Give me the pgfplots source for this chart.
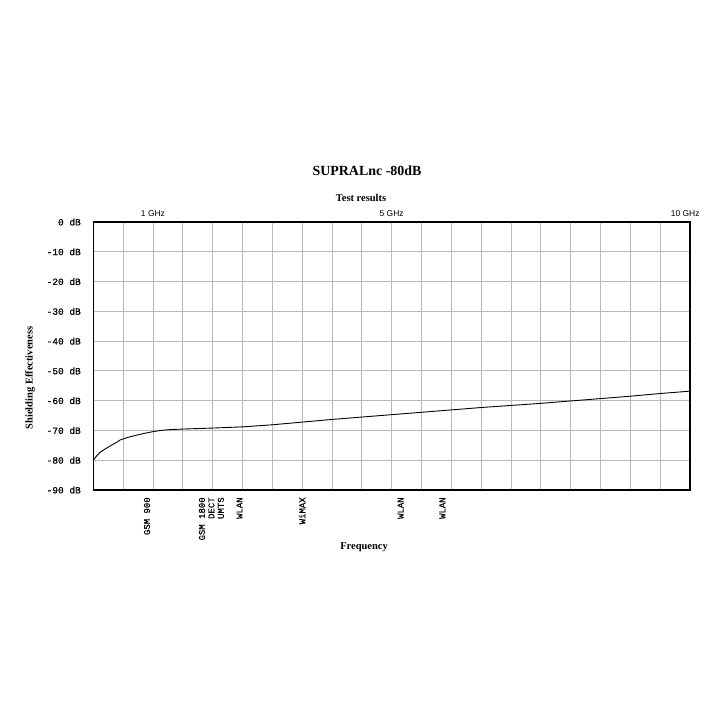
\documentclass[border=0pt]{standalone}
\usepackage{pgfplots}
\pgfplotsset{compat=1.18}
\usepackage{fontspec}
\setmainfont{Liberation Serif}
\setsansfont{Liberation Sans}
\setmonofont{Liberation Mono}
\newfontfamily\labelfont[FakeBold=0.6]{Liberation Mono}

% band markers below the axis (top end of the text 7bp under the frame)
\newcommand{\band}[2]{\node[rotate=90,anchor=east,align=right,inner sep=0pt,
  font=\labelfont\fontsize{9}{9.5}\selectfont] at (axis cs:#1,-92.4) {#2};}
% frequency labels above the axis
\newcommand{\ghz}[2]{\node[font=\sffamily\fontsize{8.5}{10}\selectfont,anchor=base]
  at (axis cs:#1,1.7) {#2};}

\begin{document}
\begin{tikzpicture}
\useasboundingbox (0,0) rectangle (720bp,-720bp);

\node[font=\bfseries\fontsize{14}{16}\selectfont] at (367bp,-171bp) {SUPRALnc -80dB};
\node[font=\bfseries\fontsize{10.5}{12}\selectfont] at (361bp,-198bp) {Test results};
\node[font=\bfseries\fontsize{10.5}{12}\selectfont] at (364bp,-547bp) {Frequency};
\node[font=\bfseries\fontsize{10.5}{12}\selectfont,rotate=90] at (30bp,-378bp) {Shielding Effectiveness};

\begin{axis}[
    at={(93.3bp,-490bp)}, anchor=south west,
    scale only axis,
    width=596.7bp, height=268bp,
    xmin=0, xmax=10, ymin=-90, ymax=0,
    xtick={0,0.5,...,10}, xticklabels={},
    ytick={-90,-80,...,0},
    yticklabels={-90 dB,-80 dB,-70 dB,-60 dB,-50 dB,-40 dB,-30 dB,-20 dB,-10 dB,0 dB},
    yticklabel style={font=\labelfont\fontsize{9.5}{11}\selectfont, xshift=-9bp},
    major tick length=0pt,
    grid=major,
    grid style={gray!55, line width=0.9bp},
    axis line style={black, line width=1.1bp},
    clip=false,
]
\addplot[black, line width=0.9bp] coordinates {
 (0,-80) (0.05,-78.7) (0.11,-77.4) (0.2,-76.2) (0.3,-75.0) (0.39,-74.0)
 (0.45,-73.2) (0.55,-72.5) (0.7,-71.7) (0.85,-71.0) (1.0,-70.4) (1.15,-69.95)
 (1.3,-69.7) (1.54,-69.5) (2.0,-69.2) (2.5,-68.8) (3.0,-68.1) (3.5,-67.2)
 (4.0,-66.3) (4.5,-65.5) (5.0,-64.7) (5.5,-63.9) (6.0,-63.1) (6.5,-62.3)
 (7.0,-61.6) (7.5,-60.9) (8.0,-60.1) (8.5,-59.3) (9.0,-58.5) (9.5,-57.6)
 (10,-56.8)
};

\ghz{1}{1 GHz}
\ghz{5}{5 GHz}
\ghz{9.92}{10 GHz}

\band{0.9}{GSM 900}
\band{1.98}{GSM 1800\\DECT\\UMTS}
\band{2.45}{WLAN}
\band{3.5}{WiMAX}
\band{5.15}{WLAN}
\band{5.85}{WLAN}
\end{axis}
\end{tikzpicture}
\end{document}
